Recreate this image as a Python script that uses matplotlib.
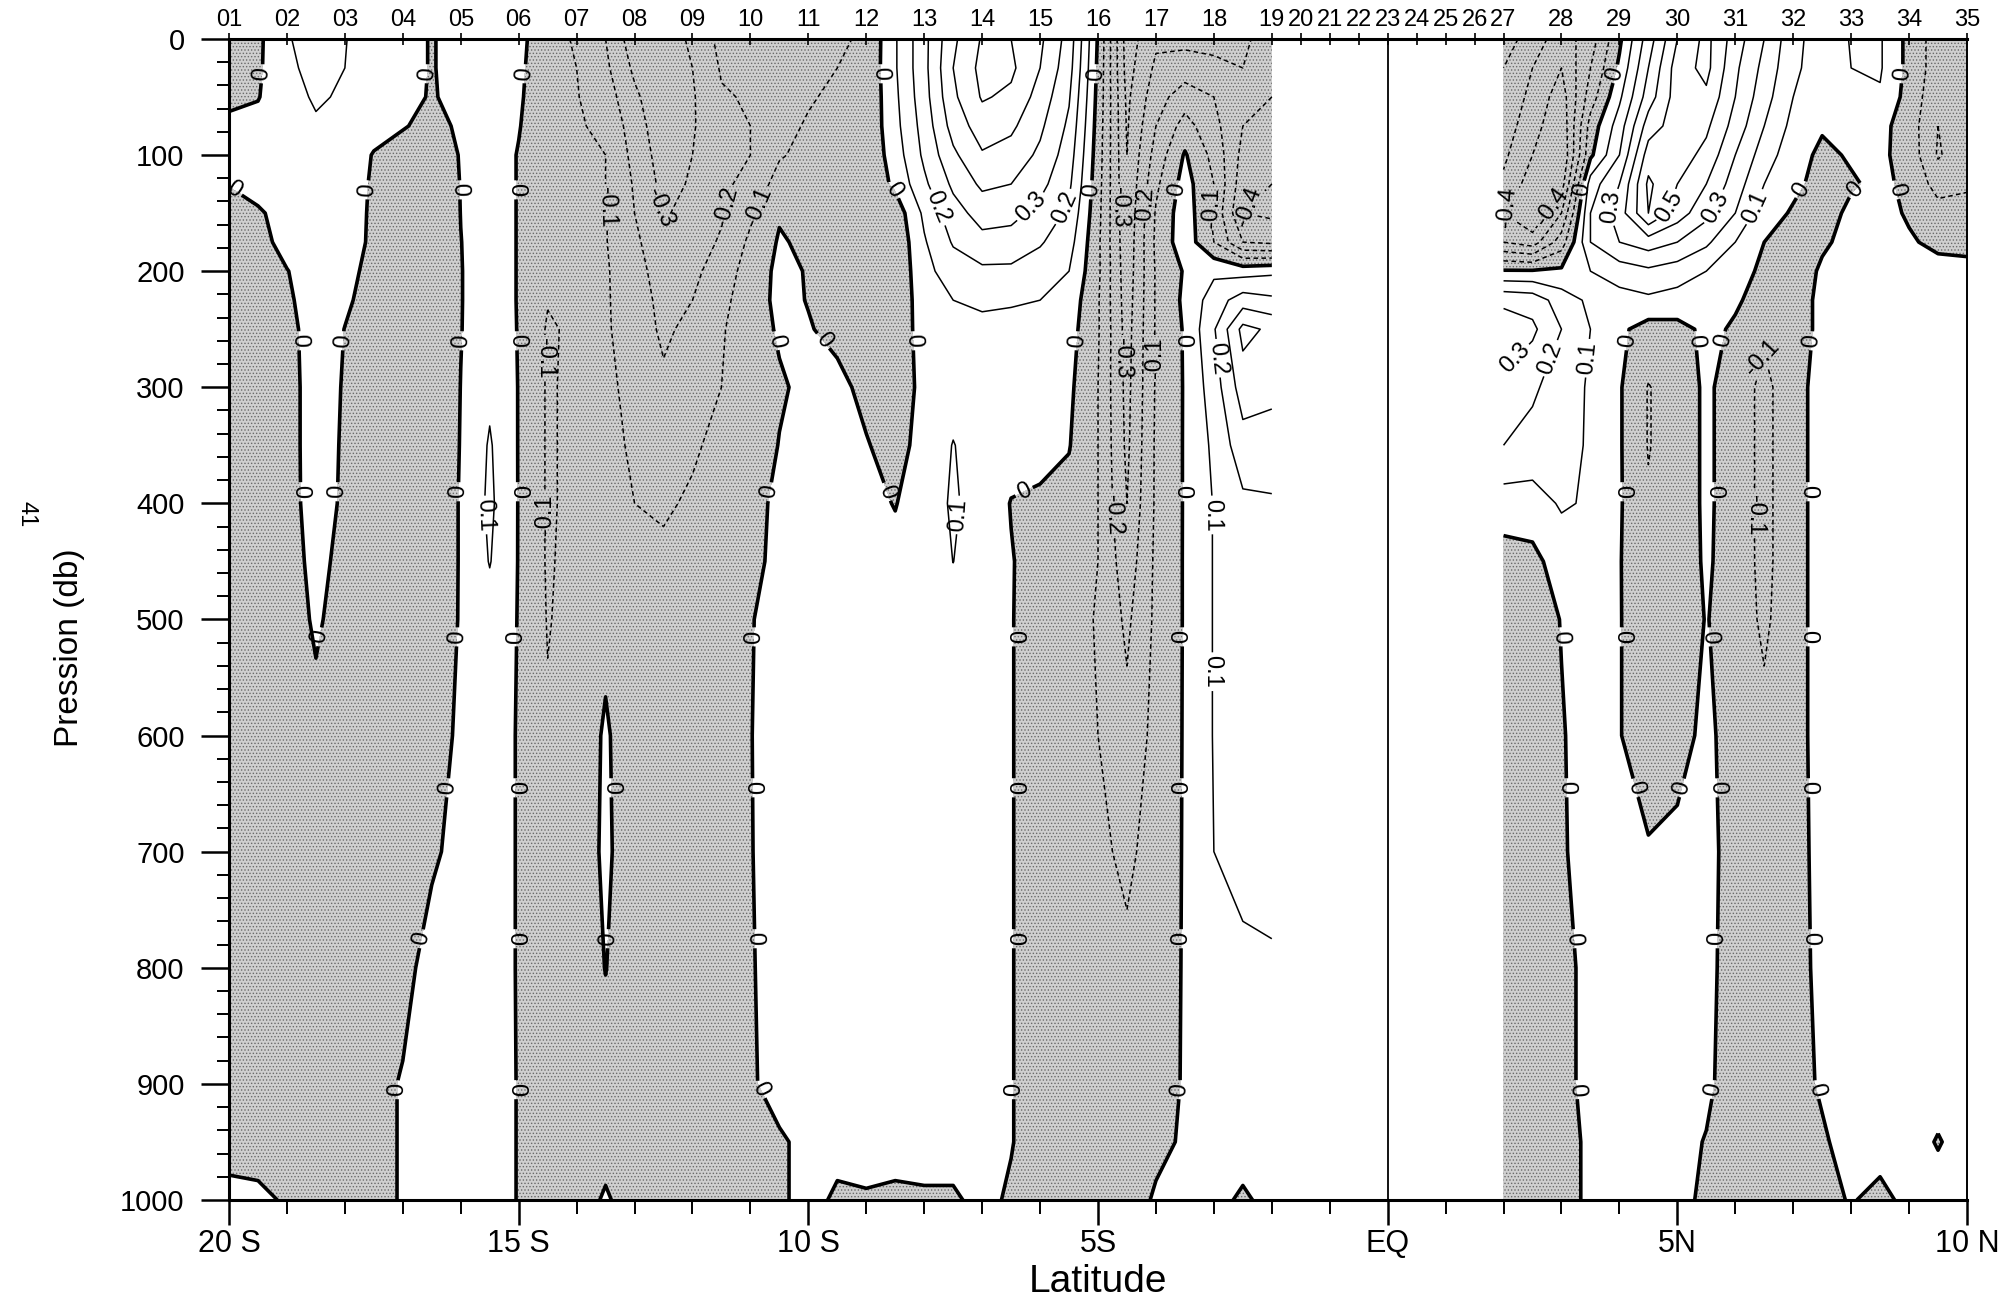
import numpy as np
import matplotlib
matplotlib.use('Agg')
import matplotlib.pyplot as plt
from matplotlib.ticker import MultipleLocator

# pressure levels (db) of every profile below
pres = [0, 25, 50, 75, 100, 125, 150, 175, 200, 225, 250, 300, 350, 400, 450, 500, 600, 700, 800, 900, 950, 1000]

# southern part of the section, one velocity profile per latitude
lat_south = [-20, -19.5, -19, -18.5, -18, -17.5, -17, -16.5, -16, -15.5, -15, -14.5, -14, -13.5, -13,
             -12.5, -12, -11.5, -11, -10.5, -10, -9.5, -9, -8.5, -8, -7.5, -7, -6.5, -6, -5.5, -5,
             -4.5, -4, -3.5, -3, -2.5, -2]
u_south = [
    [-0.05, -0.04, -0.02, 0.02, 0.02, 0.002, -0.02, -0.03, -0.04, -0.05, -0.05, -0.06, -0.06, -0.06, -0.06, -0.06, -0.06, -0.06, -0.06, -0.05, -0.04, 0.03],
    [-0.02, -0.015, -0.005, 0.03, 0.04, 0.03, -0.01, -0.02, -0.03, -0.04, -0.05, -0.05, -0.05, -0.05, -0.05, -0.05, -0.05, -0.05, -0.05, -0.05, -0.04, 0.02],
    [0.09, 0.08, 0.07, 0.06, 0.05, 0.04, 0.03, 0.02, -0.002, -0.01, -0.02, -0.025, -0.025, -0.025, -0.03, -0.035, -0.04, -0.04, -0.04, -0.04, -0.04, -0.01],
    [0.15, 0.13, 0.11, 0.09, 0.07, 0.06, 0.05, 0.04, 0.03, 0.03, 0.03, 0.03, 0.03, 0.028, 0.02, 0.01, -0.02, -0.03, -0.03, -0.03, -0.03, -0.02],
    [0.105, 0.1, 0.09, 0.07, 0.05, 0.04, 0.03, 0.025, 0.015, 0.008, -0.001, -0.005, -0.008, -0.01, -0.02, -0.03, -0.04, -0.04, -0.04, -0.04, -0.04, -0.03],
    [0.04, 0.04, 0.04, 0.03, -0.005, -0.01, -0.01, -0.01, -0.015, -0.02, -0.03, -0.03, -0.03, -0.03, -0.035, -0.04, -0.045, -0.045, -0.045, -0.04, -0.04, -0.02],
    [0.03, 0.03, 0.03, 0.005, -0.03, -0.04, -0.05, -0.05, -0.05, -0.05, -0.05, -0.05, -0.05, -0.05, -0.05, -0.05, -0.05, -0.05, -0.04, 0.01, 0.01, 0.005],
    [-0.005, -0.005, -0.008, -0.02, -0.04, -0.05, -0.06, -0.06, -0.06, -0.06, -0.06, -0.06, -0.06, -0.06, -0.06, -0.06, -0.05, -0.02, 0.05, 0.05, 0.05, 0.04],
    [0.03, 0.03, 0.03, 0.01, 0.004, 0.002, 0.001, -0.001, -0.002, -0.002, -0.002, 0.001, 0.003, 0.006, 0.006, 0.007, 0.02, 0.04, 0.05, 0.05, 0.05, 0.04],
    [0.04, 0.04, 0.04, 0.04, 0.03, 0.03, 0.03, 0.03, 0.03, 0.03, 0.04, 0.08, 0.11, 0.12, 0.105, 0.06, 0.03, 0.03, 0.03, 0.03, 0.03, 0.03],
    [0.015, 0.012, 0.008, 0.003, -0.003, -0.003, -0.003, -0.003, -0.003, -0.003, -0.003, -0.003, -0.004, -0.004, -0.004, -0.004, -0.004, -0.004, -0.004, -0.003, -0.003, -0.003],
    [-0.035, -0.04, -0.04, -0.04, -0.045, -0.05, -0.05, -0.06, -0.08, -0.095, -0.11, -0.11, -0.11, -0.11, -0.11, -0.105, -0.09, -0.07, -0.06, -0.06, -0.05, -0.05],
    [-0.12, -0.1, -0.095, -0.09, -0.09, -0.09, -0.09, -0.09, -0.09, -0.085, -0.085, -0.08, -0.08, -0.08, -0.07, -0.07, -0.05, -0.05, -0.05, -0.05, -0.04, -0.04],
    [-0.2, -0.18, -0.15, -0.12, -0.1, -0.1, -0.095, -0.095, -0.09, -0.09, -0.09, -0.085, -0.08, -0.075, -0.07, -0.02, 0.01, 0.015, 0.002, -0.03, -0.03, 0.01],
    [-0.36, -0.32, -0.28, -0.25, -0.23, -0.21, -0.2, -0.18, -0.16, -0.15, -0.14, -0.12, -0.11, -0.1, -0.09, -0.07, -0.05, -0.05, -0.05, -0.05, -0.04, -0.04],
    [-0.36, -0.37, -0.38, -0.37, -0.35, -0.33, -0.31, -0.27, -0.25, -0.23, -0.22, -0.18, -0.14, -0.11, -0.085, -0.08, -0.06, -0.06, -0.06, -0.06, -0.05, -0.05],
    [-0.28, -0.3, -0.31, -0.31, -0.3, -0.29, -0.27, -0.24, -0.22, -0.2, -0.17, -0.13, -0.11, -0.09, -0.08, -0.07, -0.06, -0.06, -0.06, -0.06, -0.05, -0.05],
    [-0.17, -0.19, -0.21, -0.22, -0.22, -0.22, -0.21, -0.19, -0.16, -0.13, -0.11, -0.1, -0.08, -0.07, -0.06, -0.06, -0.05, -0.05, -0.05, -0.05, -0.05, -0.04],
    [-0.15, -0.17, -0.19, -0.2, -0.2, -0.17, -0.12, -0.08, -0.05, -0.04, -0.04, -0.05, -0.05, -0.03, -0.02, -0.003, -0.002, -0.003, -0.006, -0.01, -0.02, -0.02],
    [-0.13, -0.13, -0.14, -0.13, -0.11, -0.06, -0.01, 0.01, 0.02, 0.02, 0.01, -0.01, 0.003, 0.02, 0.02, 0.02, 0.03, 0.03, 0.03, 0.03, -0.01, -0.01],
    [-0.12, -0.12, -0.11, -0.09, -0.07, -0.05, -0.03, -0.02, -0.005, -0.003, 0.005, 0.02, 0.03, 0.03, 0.03, 0.03, 0.03, 0.03, 0.03, 0.03, 0.02, 0.02],
    [-0.11, -0.1, -0.08, -0.07, -0.06, -0.055, -0.05, -0.05, -0.05, -0.04, -0.02, 0.02, 0.03, 0.03, 0.03, 0.03, 0.03, 0.03, 0.03, 0.03, 0.02, -0.01],
    [-0.09, -0.085, -0.085, -0.08, -0.08, -0.075, -0.07, -0.07, -0.06, -0.06, -0.05, -0.02, 0.005, 0.02, 0.03, 0.03, 0.03, 0.03, 0.03, 0.03, 0.02, -0.005],
    [0.09, 0.09, 0.08, 0.07, 0.05, 0.02, -0.06, -0.08, -0.08, -0.07, -0.06, -0.04, -0.03, -0.003, 0.02, 0.02, 0.02, 0.02, 0.02, 0.02, 0.02, -0.01],
    [0.27, 0.27, 0.26, 0.24, 0.22, 0.18, 0.12, 0.09, 0.07, 0.05, 0.04, 0.02, 0.03, 0.04, 0.04, 0.04, 0.04, 0.04, 0.04, 0.04, 0.03, -0.01],
    [0.48, 0.5, 0.48, 0.44, 0.38, 0.32, 0.26, 0.21, 0.15, 0.1, 0.07, 0.06, 0.104, 0.115, 0.101, 0.06, 0.05, 0.05, 0.05, 0.04, 0.03, -0.01],
    [0.61, 0.63, 0.61, 0.55, 0.49, 0.42, 0.34, 0.27, 0.18, 0.12, 0.07, 0.05, 0.05, 0.05, 0.05, 0.05, 0.05, 0.05, 0.05, 0.04, 0.03, 0.02],
    [0.6, 0.62, 0.58, 0.52, 0.46, 0.4, 0.33, 0.26, 0.18, 0.11, 0.07, 0.05, 0.03, -0.003, 0.004, 0.004, 0.004, 0.004, 0.004, 0.004, 0.004, -0.01],
    [0.52, 0.5, 0.46, 0.42, 0.38, 0.33, 0.27, 0.21, 0.15, 0.1, 0.08, 0.05, 0.02, -0.01, -0.03, -0.04, -0.04, -0.04, -0.04, -0.04, -0.04, -0.03],
    [0.36, 0.34, 0.31, 0.28, 0.25, 0.22, 0.18, 0.14, 0.1, 0.06, 0.04, 0.02, 0.005, -0.03, -0.04, -0.05, -0.05, -0.05, -0.05, -0.05, -0.04, -0.04],
    [-0.01, -0.02, -0.03, -0.04, -0.05, -0.06, -0.07, -0.08, -0.08, -0.09, -0.09, -0.1, -0.1, -0.1, -0.1, -0.11, -0.1, -0.08, -0.07, -0.06, -0.05, -0.04],
    [-0.45, -0.44, -0.42, -0.41, -0.4, -0.39, -0.38, -0.37, -0.36, -0.35, -0.34, -0.33, -0.32, -0.3, -0.26, -0.22, -0.17, -0.12, -0.08, -0.06, -0.05, -0.04],
    [-0.32, -0.28, -0.24, -0.2, -0.16, -0.12, -0.09, -0.08, -0.09, -0.09, -0.09, -0.09, -0.085, -0.085, -0.08, -0.08, -0.07, -0.06, -0.05, -0.04, -0.02, 0.01],
    [-0.33, -0.25, -0.15, -0.06, 0.01, 0.04, 0.06, 0.06, 0.01, 0.02, 0.01, 0.008, 0.008, 0.008, 0.008, 0.008, 0.008, 0.008, 0.008, 0.008, 0.01, 0.01],
    [-0.34, -0.27, -0.2, -0.17, -0.13, -0.1, -0.12, -0.1, 0.08, 0.15, 0.19, 0.15, 0.12, 0.105, 0.105, 0.105, 0.105, 0.1, 0.05, 0.04, 0.03, 0.02],
    [-0.32, -0.3, -0.28, -0.3, -0.33, -0.36, -0.4, -0.3, 0.06, 0.25, 0.43, 0.35, 0.26, 0.18, 0.16, 0.15, 0.14, 0.13, 0.08, 0.05, 0.03, -0.01],
    [-0.25, -0.27, -0.3, -0.33, -0.36, -0.4, -0.42, -0.32, 0.08, 0.22, 0.38, 0.33, 0.25, 0.19, 0.16, 0.15, 0.14, 0.13, 0.09, 0.05, 0.04, 0.02],
]

# northern part of the section
lat_north = [2, 2.5, 3, 3.5, 4, 4.5, 5, 5.5, 6, 6.5, 7, 7.5, 8, 8.5, 9, 9.5, 10]
u_north = [
    [-0.15, -0.2, -0.22, -0.25, -0.28, -0.32, -0.4, -0.3, 0.01, 0.28, 0.35, 0.28, 0.2, 0.05, -0.04, -0.05, -0.05, -0.05, -0.05, -0.05, -0.04, -0.03],
    [-0.25, -0.3, -0.33, -0.36, -0.4, -0.45, -0.5, -0.35, 0.01, 0.26, 0.32, 0.22, 0.16, 0.06, -0.03, -0.04, -0.05, -0.05, -0.05, -0.05, -0.04, -0.03],
    [-0.35, -0.4, -0.45, -0.48, -0.5, -0.45, -0.3, -0.15, 0.02, 0.15, 0.2, 0.14, 0.13, 0.11, 0.05, 0.003, -0.005, -0.008, -0.02, -0.02, -0.02, -0.02],
    [-0.25, -0.2, -0.15, -0.06, -0.02, 0.15, 0.2, 0.2, 0.1, 0.08, 0.1, 0.09, 0.09, 0.09, 0.07, 0.05, 0.03, 0.03, 0.02, 0.02, 0.01, 0.01],
    [-0.02, 0.02, 0.08, 0.15, 0.2, 0.3, 0.35, 0.3, 0.15, 0.06, 0.02, 0.01, 0.01, 0.01, 0.005, 0.005, 0.005, 0.02, 0.03, 0.03, 0.03, 0.03],
    [0.25, 0.3, 0.35, 0.45, 0.55, 0.62, 0.6, 0.35, 0.18, 0.08, -0.04, -0.105, -0.105, -0.09, -0.07, -0.06, -0.06, 0.01, 0.03, 0.03, 0.03, 0.03],
    [0.5, 0.55, 0.55, 0.55, 0.55, 0.5, 0.45, 0.3, 0.15, 0.06, -0.03, -0.05, -0.05, -0.05, -0.05, -0.05, -0.03, 0.02, 0.03, 0.03, 0.03, 0.03],
    [0.63, 0.63, 0.58, 0.52, 0.47, 0.4, 0.33, 0.22, 0.1, 0.04, 0.02, 0.015, 0.015, 0.015, 0.012, 0.004, 0.02, 0.03, 0.03, 0.02, -0.005, -0.02],
    [0.45, 0.42, 0.4, 0.36, 0.3, 0.25, 0.2, 0.1, 0.04, 0.01, -0.01, -0.04, -0.04, -0.04, -0.04, -0.04, -0.04, -0.04, -0.05, -0.05, -0.05, -0.05],
    [0.3, 0.27, 0.24, 0.2, 0.15, 0.1, 0.04, 0.0, -0.02, -0.03, -0.08, -0.13, -0.13, -0.13, -0.13, -0.12, -0.07, -0.06, -0.06, -0.06, -0.05, -0.05],
    [0.13, 0.12, 0.1, 0.07, 0.04, 0.02, -0.01, -0.03, -0.04, -0.04, -0.04, -0.03, -0.03, -0.03, -0.03, -0.03, -0.03, -0.03, -0.03, -0.03, -0.04, -0.04],
    [0.05, 0.05, 0.04, 0.01, -0.02, -0.03, -0.04, -0.01, 0.01, 0.02, 0.02, 0.03, 0.03, 0.03, 0.03, 0.03, 0.03, 0.025, 0.02, 0.01, -0.01, -0.02],
    [0.105, 0.1, 0.07, 0.03, 0.01, -0.01, 0.02, 0.02, 0.02, 0.03, 0.03, 0.03, 0.03, 0.03, 0.03, 0.03, 0.03, 0.03, 0.03, 0.03, 0.03, 0.005],
    [0.11, 0.11, 0.09, 0.03, 0.02, 0.02, 0.03, 0.03, 0.03, 0.03, 0.03, 0.03, 0.03, 0.03, 0.03, 0.03, 0.03, 0.03, 0.03, 0.03, 0.03, -0.02],
    [-0.03, -0.03, -0.04, -0.05, -0.04, -0.02, -0.01, 0.01, 0.03, 0.03, 0.03, 0.03, 0.03, 0.03, 0.03, 0.03, 0.03, 0.03, 0.03, 0.03, 0.03, 0.02],
    [-0.15, -0.15, -0.17, -0.2, -0.21, -0.14, -0.06, -0.02, 0.03, 0.03, 0.03, 0.03, 0.03, 0.03, 0.03, 0.03, 0.03, 0.03, 0.03, 0.03, -0.005, 0.03],
    [-0.12, -0.13, -0.14, -0.15, -0.14, -0.12, -0.05, -0.02, 0.02, 0.03, 0.03, 0.03, 0.03, 0.03, 0.03, 0.03, 0.03, 0.03, 0.03, 0.03, 0.03, 0.03],
]

stations = ['01', '02', '03', '04', '05', '06', '07', '08', '09', '10', '11', '12', '13', '14', '15',
            '16', '17', '18', '19', '20', '21', '22', '23', '24', '25', '26', '27', '28', '29', '30',
            '31', '32', '33', '34', '35']
station_lat = [-20, -19, -18, -17, -16, -15, -14, -13, -12, -11, -10, -9, -8, -7, -6, -5, -4, -3, -2,
               -1.5, -1, -0.5, 0, 0.5, 1, 1.5, 2, 3, 4, 5, 6, 7, 8, 9, 10]

lat_ticks = [-20, -15, -10, -5, 0, 5, 10]
lat_labels = ['20 S', '15 S', '10 S', '5S', 'EQ', '5N', '10 N']

levels = [-0.5, -0.4, -0.3, -0.2, -0.1, 0.0, 0.1, 0.2, 0.3, 0.4, 0.5, 0.6]
zero_rows = [30, 130, 260, 390, 515, 645, 775, 905]
value_rows = [145, 275, 410, 545, 660]

narrow = ['Liberation Sans Narrow', 'Liberation Sans', 'DejaVu Sans']
plt.rcParams['font.family'] = ['Liberation Sans', 'DejaVu Sans']
plt.rcParams['hatch.color'] = '#6a6a6a'
plt.rcParams['hatch.linewidth'] = 0.6

fig = plt.figure(figsize=(20.16, 13.07), dpi=100)
ax = fig.add_axes([0.1136, 0.0819, 0.8621, 0.8883])
ax.set_xlim(-20, 10)
ax.set_ylim(1000, 0)

placed = []   # label positions already used, in pixels


def row_crossings(seg, rows):
    # points where one contour line crosses the given pressure rows
    pts = []
    if len(seg) < 2:
        return pts
    y = seg[:, 1]
    for r in rows:
        d = y - r
        idx = np.where(d[:-1] * d[1:] < 0)[0]
        for i in idx:
            t = (r - y[i]) / (y[i + 1] - y[i])
            pts.append((seg[i, 0] + t * (seg[i + 1, 0] - seg[i, 0]), r))
    return pts


def free_spots(pts, gap, limit=None):
    keep = []
    for x, y in pts:
        if limit is not None and len(keep) >= limit:
            break
        px, py = ax.transData.transform((x, y))
        if all(abs(px - qx) > gap or abs(py - qy) > gap for qx, qy in placed):
            placed.append((px, py))
            keep.append((x, y))
    return keep


def draw_section(lat, prof):
    X, Y = np.meshgrid(lat, pres)
    Z = np.array(prof).T
    ax.contourf(X, Y, Z, levels=[-5, 0], colors=['#cfcfcf'], hatches=['.....'])
    sets = {}
    for lev in levels:
        if lev < 0:
            style, lw = [(0, (3.0, 2.2))], 1.1
        elif lev == 0:
            style, lw = 'solid', 2.6
        else:
            style, lw = 'solid', 1.1
        if Z.min() < lev < Z.max():
            sets[lev] = ax.contour(X, Y, Z, levels=[lev], colors='k', linewidths=lw,
                                   linestyles=style)
    return sets


def label_zero(sets):
    cz = sets[0.0]
    pts = []
    for seg in cz.allsegs[0]:
        pts += free_spots(row_crossings(seg, zero_rows), 18)
    if pts:
        cz.clabel(manual=pts, inline=True, inline_spacing=3, fmt='%g', fontsize=17)


def label_values(sets):
    for lev, cs in sets.items():
        if lev == 0.0:
            continue
        pts = []
        for seg in cs.allsegs[0]:
            pts += free_spots(row_crossings(seg, value_rows), 26, limit=2)
        if pts:
            cs.clabel(manual=pts, inline=True, inline_spacing=3, fmt='%g', fontsize=17)


south = draw_section(lat_south, u_south)
north = draw_section(lat_north, u_north)
label_zero(south)
label_zero(north)
label_values(south)
label_values(north)

ax.axvline(0, color='k', linewidth=1.3)

ax.set_xticks(lat_ticks)
ax.set_xticklabels(lat_labels, family=narrow, fontsize=22)
ax.xaxis.set_minor_locator(MultipleLocator(1))
ax.yaxis.set_major_locator(MultipleLocator(100))
ax.yaxis.set_minor_locator(MultipleLocator(20))
ax.tick_params(axis='x', which='major', direction='out', length=18, width=1.8, pad=3)
ax.tick_params(axis='x', which='minor', direction='out', length=10, width=1.4)
ax.tick_params(axis='y', which='major', direction='out', length=20, width=1.8, pad=12,
               labelsize=21)
ax.tick_params(axis='y', which='minor', direction='out', length=9, width=1.4)
for side in ['left', 'bottom', 'top']:
    ax.spines[side].set_linewidth(2.2)
ax.spines['right'].set_linewidth(1.4)

ax.set_xlabel('Latitude', family=narrow, fontsize=28)
ax.set_ylabel('Pression (db)', family=narrow, fontsize=24)
ax.xaxis.set_label_coords(0.5, -0.055)
ax.yaxis.set_label_coords(-0.083, 0.476)

# station numbers along the top edge
top = ax.twiny()
top.set_xlim(ax.get_xlim())
top.set_xticks(station_lat)
top.set_xticklabels(stations, family=narrow, fontsize=17)
top.tick_params(axis='x', direction='inout', length=9, width=1.2, pad=1)
for side in ['left', 'bottom', 'top', 'right']:
    top.spines[side].set_visible(False)

fig.text(0.013, 0.607, '41', rotation=-90, ha='center', va='center', fontsize=17)

fig.savefig('out.png', dpi=100)
